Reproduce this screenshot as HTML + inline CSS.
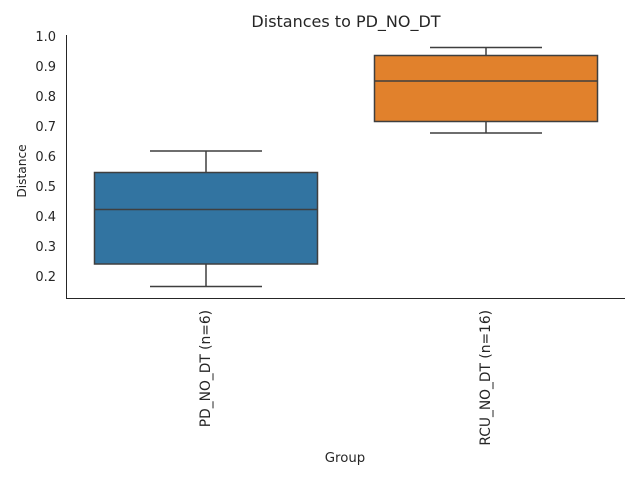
<!DOCTYPE html>
<html><head><style>body{margin:0;background:#fff}</style></head><body>
<svg width="640" height="480" xmlns="http://www.w3.org/2000/svg" font-family="DejaVu Sans, Liberation Sans, sans-serif" fill="#262626">
<text x="346" y="27" font-size="16" text-anchor="middle">Distances to PD_NO_DT</text>
<g font-size="13" text-anchor="end">
<text x="56" y="41">1.0</text><text x="56" y="71">0.9</text><text x="56" y="101">0.8</text><text x="56" y="131">0.7</text><text x="56" y="161">0.6</text><text x="56" y="191">0.5</text><text x="56" y="221">0.4</text><text x="56" y="251">0.3</text><text x="56" y="281">0.2</text>
</g>
<text transform="translate(26,171) rotate(-90)" font-size="12.2" text-anchor="middle">Distance</text>
<text x="345" y="462" font-size="13.3" text-anchor="middle">Group</text>
<text transform="translate(210,310) rotate(-90)" font-size="13.8" text-anchor="end">PD_NO_DT (n=6)</text>
<text transform="translate(490,310) rotate(-90)" font-size="13.8" text-anchor="end">RCU_NO_DT (n=16)</text>
<path d="M66.5 35V298.5H625" stroke="#262626" stroke-width="1" fill="none"/>
<g stroke="#3f3f3f" stroke-width="1.5" fill="none">
<rect x="94.5" y="172.5" width="223" height="91.5" fill="#3274a1"/>
<line x1="94.5" y1="209.5" x2="317.5" y2="209.5"/>
<line x1="206" y1="172.5" x2="206" y2="151"/><line x1="150" y1="151" x2="262" y2="151"/>
<line x1="206" y1="264" x2="206" y2="286.5"/><line x1="150" y1="286.5" x2="262" y2="286.5"/>
<rect x="374.5" y="55.5" width="223" height="66" fill="#e1812c"/>
<line x1="374.5" y1="81" x2="597.5" y2="81"/>
<line x1="486" y1="55.5" x2="486" y2="47.5"/><line x1="430" y1="47.5" x2="542" y2="47.5"/>
<line x1="486" y1="121.5" x2="486" y2="133"/><line x1="430" y1="133" x2="542" y2="133"/>
</g>
</svg>
</body></html>
